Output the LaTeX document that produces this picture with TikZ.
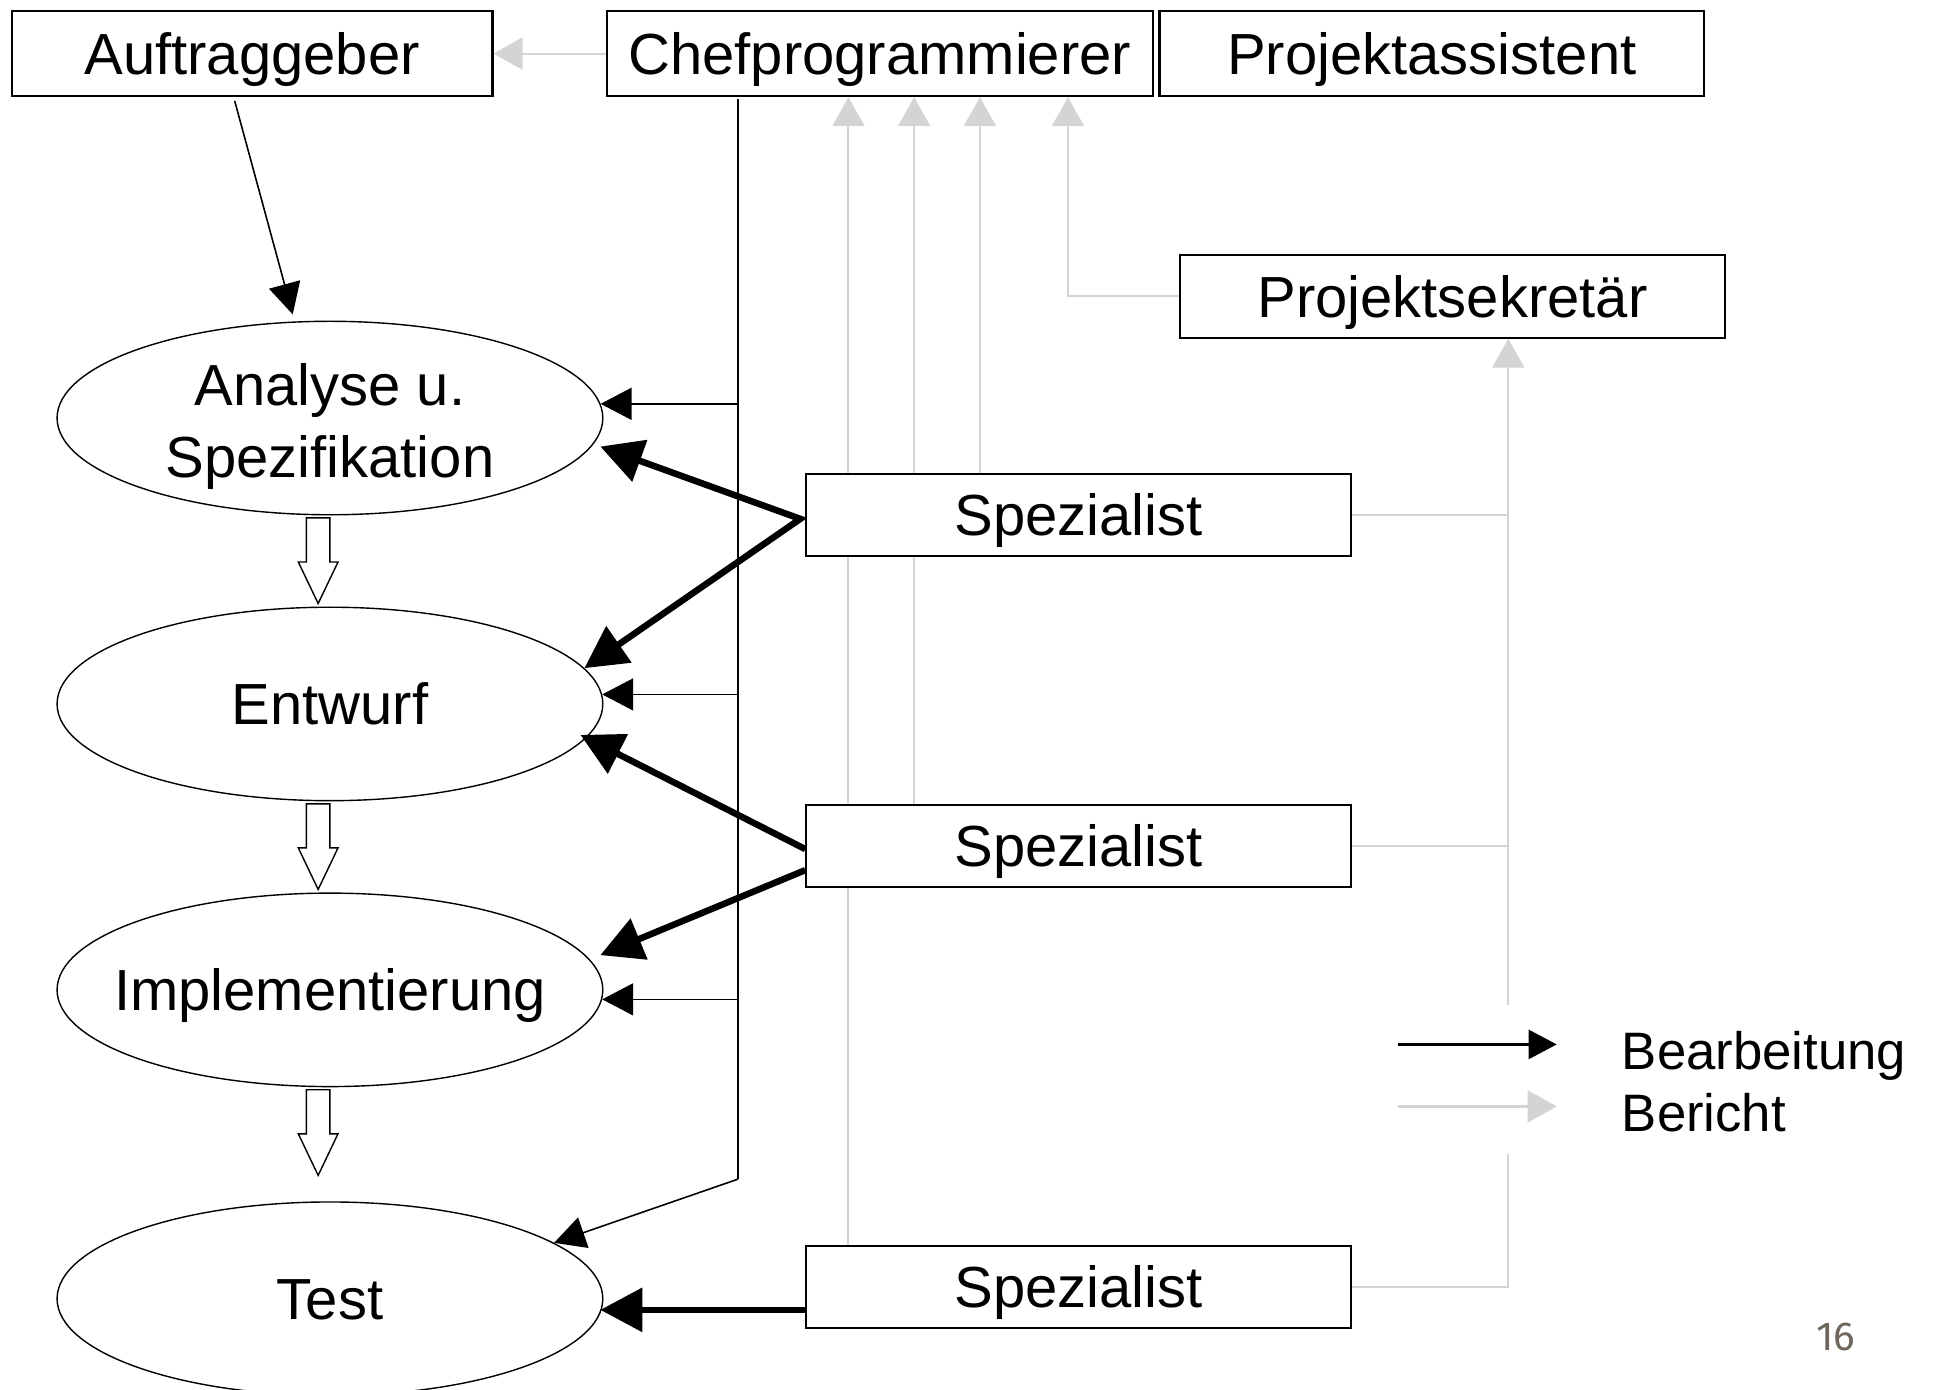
\documentclass[tikz,border=0pt]{standalone}
\usepackage{fontspec}
\setmainfont{Liberation Sans}
\newfontfamily\pagefont{Fira Sans}
\usetikzlibrary{arrows.meta,shapes.geometric,calc}
\definecolor{repgray}{RGB}{212,212,212}
\definecolor{pagegray}{RGB}{110,102,92}
\newcommand\lblfont{\fontsize{16.5}{20.4}\selectfont}
\newcommand\legfont{\fontsize{15}{18}\selectfont}
\pgfdeclarelayer{bg}
\pgfsetlayers{bg,main}

\tikzset{
  role/.style={draw, fill=white, line width=0.6pt, rectangle, inner sep=0pt,
    minimum width=5.445cm, minimum height=0.825cm, font=\lblfont,
    text height=11.8pt, text depth=0pt},
  phase/.style={draw, line width=0.4pt, ellipse, inner sep=0pt,
    minimum width=5.458cm, minimum height=1.935cm},
  phasetext/.style={inner sep=0pt, font=\lblfont},
  capline/.style={text height=11.8pt, text depth=0pt},
  legtext/.style={inner sep=0pt, font=\legfont, text height=10.74pt, text depth=0pt},
  worktip/.tip={Triangle[length=3.1mm,width=3.2mm]},
  heavytip/.tip={Triangle[length=4.2mm,width=4.3mm]},
  reptip/.tip={Triangle[length=2.9mm,width=3.2mm]},
  work/.style={-worktip, line width=0.45pt},
  heavy/.style={-heavytip, line width=1.85pt},
  report/.style={-reptip, repgray, line width=0.6pt},
  hollow/.style={line width=0.4pt, fill=white}
}

\begin{document}
\begin{tikzpicture}[x=0.012404cm, y=-0.012404cm]
\useasboundingbox (0,0) rectangle (1560,1120.6);
% people
\node[role, minimum width=4.809cm, minimum height=0.85cm] (auftrag) at (203.2,43.2) {Auftraggeber};
\node[role, minimum width=5.465cm, minimum height=0.85cm] (chef) at (709.3,43.2) {Chefprogrammierer};
\node[role, minimum width=5.448cm, minimum height=0.85cm] (assist) at (1154.4,43.2) {Projektassistent};
\node[role, minimum width=5.458cm, minimum height=0.826cm] (sekr) at (1171,238.9) {Projektsekretär};
\node[role] (spec1) at (869.5,415.3) {Spezialist};
\node[role] (spec2) at (869.5,682) {Spezialist};
\node[role] (spec3) at (869.5,1037.5) {Spezialist};
% phases
\node[phase] (ana) at (266,337) {};
\node[phase] (entw) at (266,567.5) {};
\node[phase] (impl) at (266,798) {};
\node[phase] (test) at (266,1047) {};
\node[phasetext, align=center] at ($(ana)+(0,6.7)$) {Analyse u.\\Spezifikation};
\node[phasetext, capline] at (entw) {Entwurf};
\node[phasetext, capline] at (impl) {Implementierung};
\node[phasetext, capline] at (test) {Test};
\foreach \ph in {ana,entw,impl}
  \draw[hollow] ($(\ph.south)+(-19,2)$) -- ++(19,0) -- ++(0,35.5) -- ++(6.5,0)
    -- ++(-16,33.5) -- ++(-16,-33.5) -- ++(6.5,0) -- cycle;
% Bearbeitung
\draw[work] ($(auftrag.south)+(-14,3)$) -- ($(ana.north)+(-30,-5)$);
\coordinate (bustop) at (595,80);
\coordinate (busend) at (595,950.6);
\draw[line width=0.55pt] (bustop) -- (busend);
\draw[work] (busend) -- (test.14);
\foreach \ph/\ang in {ana/3, entw/2.5, impl/-2}
  \draw[work] (\ph.\ang -| bustop) -- (\ph.\ang);
\draw[heavy, heavytip-heavytip] ($(ana)+(218,23)$) -- ($(spec1.west)+(-4,3)$) -- (entw.8);
\draw[heavy] ($(spec2.west)+(0,2.5)$) -- ($(entw)+(202,25)$);
\draw[heavy] ($(spec2.west)+(0,19.5)$) -- ($(impl)+(218,-28)$);
\draw[heavy] ($(spec3.west)+(0,18.5)$) -- ($(test)+(218,9)$);
% Bericht
\begin{pgfonlayer}{bg}
\draw[report] (chef.west) -- (auftrag.east);
\foreach \sx/\sp in {684/spec3, 737/spec2, 790/spec1}
  \draw[report] (\sx,0 |- \sp.north) -- (\sx,0 |- chef.south);
\draw[report] (sekr.west) -| (861,0 |- chef.south);
\draw[repgray, line width=0.6pt] (spec1.east) -- (1216,0 |- spec1.east);
\draw[repgray, line width=0.6pt] (spec2.east) -- (1216,0 |- spec2.east);
\draw[report] (spec3.east) -| (1216,0 |- sekr.south);
\end{pgfonlayer}
% legend
\fill[white] (1140,810) rectangle (1560,930);
\node[legtext, anchor=west] (lgwork) at (1307,847) {Bearbeitung};
\node[legtext, anchor=west] (lgrep) at (1307,897) {Bericht};
\coordinate (lw) at (1127,842);
\coordinate (lr) at (1127,892);
\draw[-{Triangle[length=2.8mm,width=2.9mm]}, line width=0.75pt] (lw) -- ++(128,0);
\draw[report] (lr) -- ++(128,0);
\node[inner sep=0pt, text=pagegray, font=\pagefont\fontsize{11.5}{13}\selectfont] (pagenum) at (1480,1078) {16};
\end{tikzpicture}
\end{document}
